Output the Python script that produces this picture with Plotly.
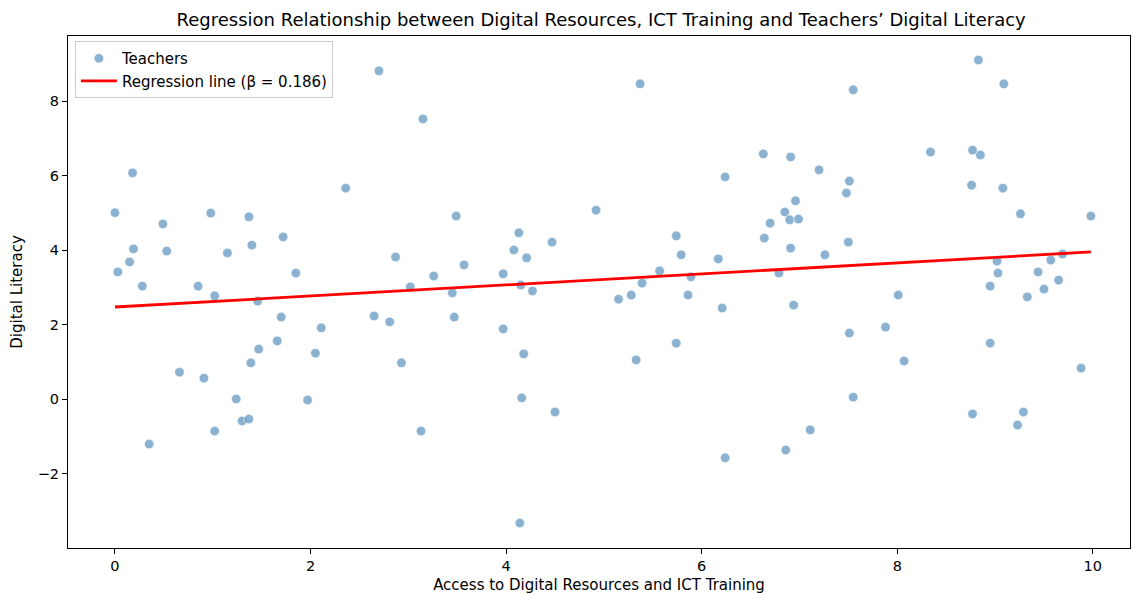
import numpy as np
import plotly.graph_objects as go

# Access to Digital Resources and ICT Training (x) and Digital Literacy (y)
access = [0.00, 0.03, 0.18, 0.15, 0.19, 0.28, 0.49, 0.53, 0.35, 0.66,
          0.85, 0.91, 0.98, 1.02, 1.02, 1.15, 1.24, 1.30, 1.37, 1.37,
          1.40, 1.39, 1.46, 1.47, 1.66, 1.70, 1.72, 1.85, 1.97, 2.05,
          2.11, 2.36, 2.65, 2.70, 2.81, 2.87, 2.93, 3.02, 3.15, 3.13,
          3.26, 3.45, 3.47, 3.49, 3.57, 3.97, 3.97, 4.08, 4.13, 4.15,
          4.21, 4.18, 4.16, 4.14, 4.27, 4.47, 4.50, 4.92, 5.15, 5.28,
          5.33, 5.37, 5.39, 5.57, 5.74, 5.74, 5.79, 5.86, 5.89, 6.17,
          6.21, 6.24, 6.24, 6.63, 6.64, 6.70, 6.79, 6.85, 6.86, 6.90,
          6.91, 6.91, 6.94, 6.96, 6.99, 7.11, 7.20, 7.26, 7.48, 7.51,
          7.50, 7.51, 7.55, 7.55, 7.88, 8.01, 8.07, 8.34, 8.76, 8.77,
          8.77, 8.83, 8.85, 8.95, 8.95, 9.02, 9.03, 9.08, 9.09, 9.23,
          9.26, 9.29, 9.33, 9.44, 9.50, 9.57, 9.65, 9.69, 9.88, 9.98]
literacy = [5.00, 3.41, 6.07, 3.68, 4.03, 3.03, 4.70, 3.97, -1.21, 0.72,
            3.03, 0.56, 4.99, 2.77, -0.86, 3.92, 0.00, -0.59, 4.89, -0.54,
            4.13, 0.97, 2.63, 1.34, 1.56, 2.20, 4.35, 3.38, -0.03, 1.23,
            1.91, 5.66, 2.23, 8.81, 2.07, 3.81, 0.97, 3.01, 7.52, -0.86,
            3.30, 2.85, 2.20, 4.91, 3.60, 3.36, 1.88, 4.00, 4.46, 3.06,
            3.79, 1.21, 0.03, -3.33, 2.90, 4.21, -0.35, 5.07, 2.68, 2.79,
            1.05, 8.46, 3.11, 3.44, 4.38, 1.50, 3.87, 2.79, 3.28, 3.76,
            2.44, 5.96, -1.58, 6.58, 4.32, 4.72, 3.38, 5.02, -1.37, 4.81,
            6.50, 4.05, 2.52, 5.32, 4.83, -0.83, 6.15, 3.87, 5.53, 5.85,
            4.21, 1.77, 8.30, 0.05, 1.93, 2.79, 1.02, 6.63, 5.74, 6.68,
            -0.40, 9.10, 6.55, 3.03, 1.50, 3.70, 3.38, 5.66, 8.46, -0.70,
            4.97, -0.35, 2.74, 3.41, 2.95, 3.73, 3.19, 3.89, 0.83, 4.91]

# Regression line parameters as drawn in the picture
intercept = 2.47
slope = 0.148
beta_label = "0.186"

x_arr = np.array(access)
x_line = np.array([x_arr.min(), x_arr.max()])
y_line = intercept + slope * x_line

font_family = "DejaVu Sans, Liberation Sans, sans-serif"

fig = go.Figure()
fig.add_trace(go.Scatter(
    x=access, y=literacy, mode="markers", name="Teachers",
    marker=dict(size=9.5, color="rgba(70,130,180,0.62)",
                line=dict(width=0.8, color="rgba(255,255,255,0.7)")),
))
fig.add_trace(go.Scatter(
    x=x_line, y=y_line, mode="lines",
    name=f"Regression line (β = {beta_label})",
    line=dict(color="#ff0000", width=2.8),
))

axis_common = dict(
    showgrid=False, zeroline=False, showline=True, linecolor="black",
    linewidth=1, mirror=True, ticks="outside", ticklen=5, tickwidth=1,
    tickcolor="black", tickfont=dict(size=14.5, color="black", family=font_family),
)

fig.update_layout(
    width=1131, height=594,
    margin=dict(l=68, r=1, t=36, b=46),
    paper_bgcolor="white", plot_bgcolor="white",
    font=dict(family=font_family, color="black"),
    title=dict(text="Regression Relationship between Digital Resources, ICT Training and Teachers’ Digital Literacy",
               x=0.5315, xanchor="center", y=1 - 20 / 594, yanchor="middle",
               font=dict(size=18.0, color="black", family=font_family)),
    xaxis=dict(range=[-0.48, 10.38], tickvals=[0, 2, 4, 6, 8, 10],
               title=dict(text="Access to Digital Resources and ICT Training",
                          font=dict(size=15, color="black"), standoff=6),
               **axis_common),
    yaxis=dict(range=[-4.0, 9.745], tickvals=[-2, 0, 2, 4, 6, 8],
               ticktext=["−2", "0", "2", "4", "6", "8"],
               title=dict(text="Digital Literacy",
                          font=dict(size=15, color="black"), standoff=11),
               **axis_common),
    showlegend=True,
    legend=dict(x=0.0065, y=0.99, xanchor="left", yanchor="top",
                bgcolor="rgba(255,255,255,0.8)", bordercolor="#cccccc",
                borderwidth=1, font=dict(size=15, color="black"),
                itemwidth=36, tracegroupgap=0),
)

fig.write_html("out.html", config={"displayModeBar": False},
               post_script="document.body.style.margin='0';document.body.style.overflow='hidden';")
